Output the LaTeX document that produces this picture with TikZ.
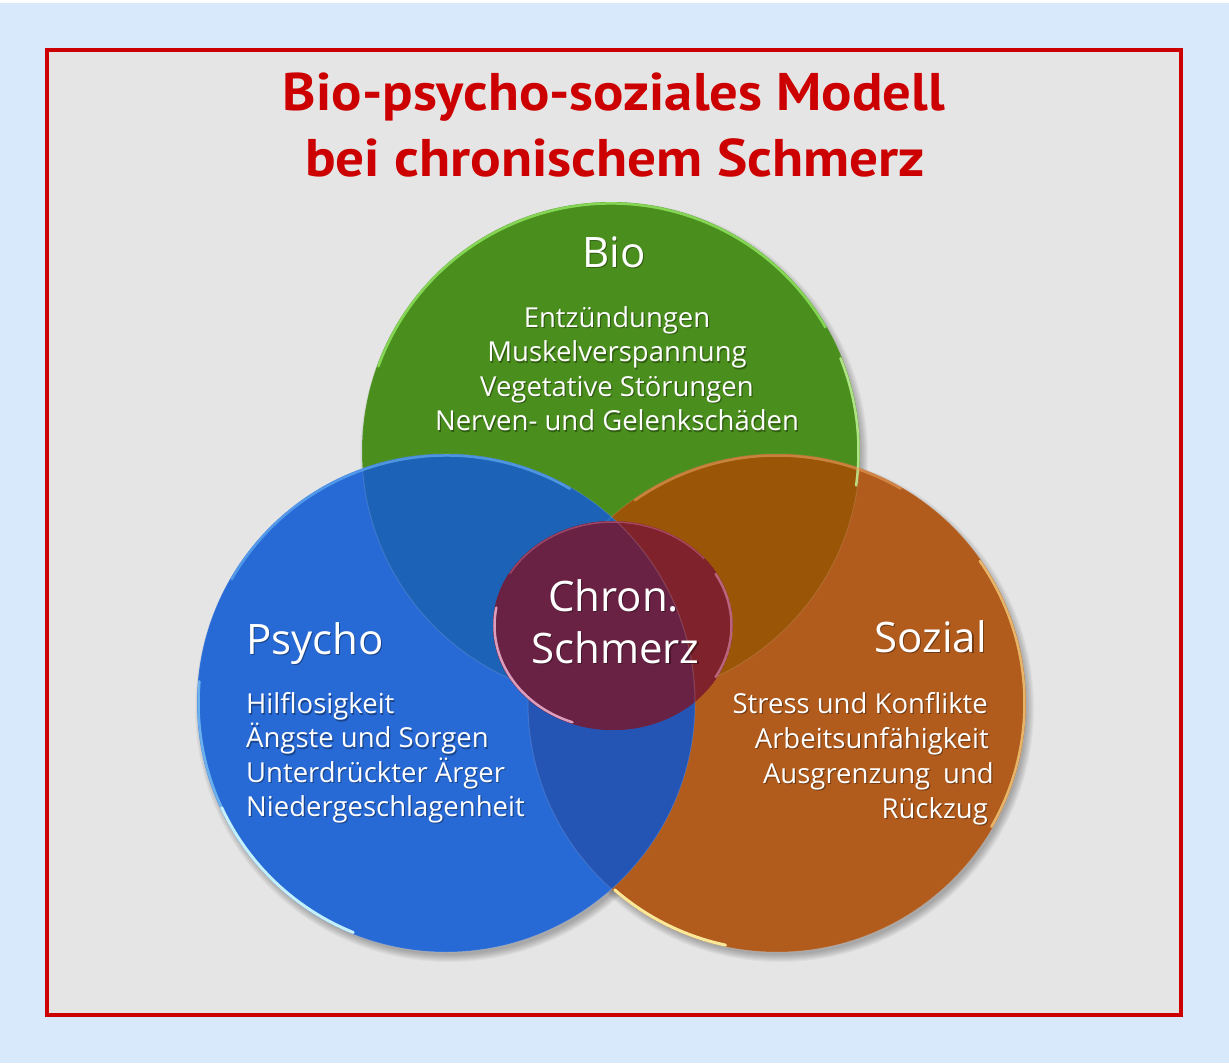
\documentclass[tikz,border=0pt]{standalone}
\usepackage{fontspec}
\usepackage{graphicx}
\setmainfont{Open Sans}
\newfontfamily\titlefont{PT Sans}
\usetikzlibrary{calc}
\definecolor{bgblue}{HTML}{D8E9FC}
\definecolor{panelgray}{HTML}{E5E5E5}
\definecolor{framered}{HTML}{CC0000}
\definecolor{cgreen}{HTML}{4A8F1D}
\definecolor{cblue}{HTML}{286AD5}
\definecolor{corange}{HTML}{B15B1D}
\definecolor{cGB}{HTML}{1C62B6}
\definecolor{cGO}{HTML}{9B5506}
\definecolor{cBO}{HTML}{2455B5}
\definecolor{cEred}{HTML}{80222B}
\definecolor{cEpurple}{HTML}{6A2244}
\newcommand{\wtxt}[4]{%
  \node[#2,text=black,text opacity=0.35,xshift=1.2pt,yshift=-1.5pt] (#1s) at (#3) {#4};
  \node[#2] (#1) at (#3) {#4};}
\begin{document}
\begin{tikzpicture}[x=1pt,y=-1pt,
  titlestyle/.style={inner sep=0pt,text=framered,font=\titlefont\bfseries\fontsize{53}{60}\selectfont},
  headtxt/.style={inner sep=0pt,text=white,font=\fontsize{42}{48}\selectfont},
  listtxt/.style={inner sep=0pt,text=white,font=\fontsize{27.5}{33}\selectfont},
  rim/.style={line width=2.5pt,line cap=round}]
\useasboundingbox (0,0) rectangle (1229,1063);
\fill[white] (0,0) rectangle (1229,1063);
\fill[bgblue] (0,3) rectangle (1229,1063);
\fill[panelgray] (47,50) rectangle (1181,1015);
\draw[framered,line width=4pt] (47,50) rectangle (1181,1015);

% title
\node[titlestyle,anchor=base] (t1) at (614,110) {\resizebox{662pt}{\height}{Bio-psycho-soziales Modell}};
\node[titlestyle,anchor=base] (t2) at (615,176) {\resizebox{620pt}{\height}{bei chronischem Schmerz}};

% circle centres
\coordinate (cG) at (611,451);
\coordinate (cB) at (446,703);
\coordinate (cO) at (777,703);
\coordinate (cE) at (613,625.5);
\def\R{249}
\def\r{247.5}

% soft shadows
\foreach \c in {cG,cB,cO}{
  \foreach \k in {0,...,7}{
    \fill[black,opacity=0.035] ($(\c)+(3,5)$) circle[radius={(\R+5-\k)*1pt}];
  }
}

% fills
\fill[cgreen] (cG) circle[radius=\R pt];
\fill[corange] (cO) circle[radius=\R pt];
\fill[cblue] (cB) circle[radius=\R pt];
\begin{scope}
  \clip (cG) circle[radius=\R pt];
  \fill[cGO] (cO) circle[radius=\R pt];
\end{scope}
\begin{scope}
  \clip (cB) circle[radius=\R pt];
  \fill[cBO] (cO) circle[radius=\R pt];
\end{scope}
\begin{scope}
  \clip (cG) circle[radius=\R pt];
  \fill[cGB] (cB) circle[radius=\R pt];
\end{scope}
% faint inner edges
\foreach \c in {cG,cB,cO}{
  \draw[white,opacity=0.12,line width=1pt] (\c) circle[radius=\R pt];
}

% rim highlights (user angle = - page angle)
\draw[rim,color={rgb,255:red,140;green,222;blue,92},opacity=0.9] (cG) ++(-160:\r) arc[start angle=-160,end angle=-30,radius=\r];
\draw[rim,color={rgb,255:red,200;green,250;blue,160},opacity=0.8] (cG) ++(-22:\r) arc[start angle=-22,end angle=8,radius=\r];
\draw[rim,color={rgb,255:red,100;green,172;blue,242},opacity=0.7] (cB) ++(-150:\r) arc[start angle=-150,end angle=-60,radius=\r];
\draw[rim,color={rgb,255:red,150;green,225;blue,255},opacity=0.6] (cB) ++(-175:\r) arc[start angle=-175,end angle=-205,radius=\r];
\draw[rim,line width=3pt,color={rgb,255:red,205;green,248;blue,255},opacity=0.95] (cB) ++(-205:\r) arc[start angle=-205,end angle=-248,radius=\r];
\draw[rim,color={rgb,255:red,232;green,160;blue,96},opacity=0.6] (cO) ++(-125:\r) arc[start angle=-125,end angle=-60,radius=\r];
\draw[rim,line width=3pt,color={rgb,255:red,255;green,240;blue,160},opacity=0.95] (cO) ++(-229:\r) arc[start angle=-229,end angle=-258,radius=\r];
\draw[rim,color={rgb,255:red,250;green,212;blue,130},opacity=0.75] (cO) ++(-35:\r) arc[start angle=-35,end angle=30,radius=\r];

% centre ellipse
\begin{scope}
  \clip (cE) ellipse[x radius=120pt,y radius=104.5pt];
  \fill[cEred] (cE) ellipse[x radius=120pt,y radius=104.5pt];
  \fill[cEpurple] (cB) circle[radius=\R pt];
  \draw[white,opacity=0.15,line width=1pt] (cB) circle[radius=\R pt];
\end{scope}
\draw[rim,color={rgb,255:red,240;green,180;blue,210},opacity=0.85] (cE) ++(-170:118.5 and 103) arc[start angle=-170,end angle=-250,x radius=118.5,y radius=103];
\draw[rim,color={rgb,255:red,224;green,144;blue,176},opacity=0.6] (cE) ++(-30:118.5 and 103) arc[start angle=-30,end angle=30,x radius=118.5,y radius=103];
\draw[line width=1.5pt,color={rgb,255:red,192;green,96;blue,128},opacity=0.6] (cE) ++(-150:119 and 103.5) arc[start angle=-150,end angle=-40,x radius=119,y radius=103.5];

% texts
\wtxt{hBio}{headtxt,anchor=base}{614,267}{Bio}
\wtxt{b1}{listtxt,anchor=base}{617,327}{Entzündungen}
\wtxt{b2}{listtxt,anchor=base}{617,361.5}{Muskelverspannung}
\wtxt{b3}{listtxt,anchor=base}{617,396}{Vegetative Störungen}
\wtxt{b4}{listtxt,anchor=base}{617,430.5}{Nerven- und Gelenkschäden}

\wtxt{hPsy}{headtxt,anchor=base west}{246,654}{Psycho}
\wtxt{p1}{listtxt,anchor=base west}{246,713.5}{Hilflosigkeit}
\wtxt{p2}{listtxt,anchor=base west}{246,747.8}{Ängste und Sorgen}
\wtxt{p3}{listtxt,anchor=base west}{246,782.1}{Unterdrückter Ärger}
\wtxt{p4}{listtxt,anchor=base west}{246,816.4}{Niedergeschlagenheit}

\wtxt{hSoz}{headtxt,anchor=base east}{987,652}{Sozial}
\wtxt{s1}{listtxt,anchor=base east}{988,713}{Stress und Konflikte}
\wtxt{s2}{listtxt,anchor=base east}{989,748}{Arbeitsunfähigkeit}
\wtxt{s3}{listtxt,anchor=base east}{994,783}{Ausgrenzung\hspace{13pt}und}
\wtxt{s4}{listtxt,anchor=base east}{988,818}{Rückzug}

\wtxt{c1}{headtxt,anchor=base}{613.5,611}{Chron.}
\wtxt{c2}{headtxt,anchor=base}{615.5,663}{Schmerz}
\end{tikzpicture}
\end{document}
